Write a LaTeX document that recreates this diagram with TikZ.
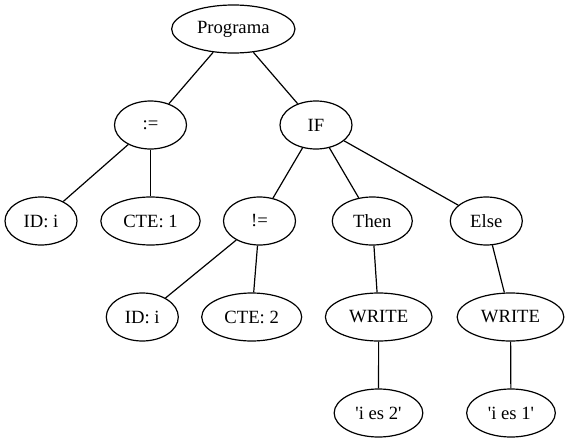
\documentclass[tikz,border=0pt]{standalone}
\usepackage{fontspec}
\newfontfamily\gvfont{Liberation Serif}
\usetikzlibrary{shapes.geometric}
\begin{document}
\begin{tikzpicture}[x=0.75pt,y=-0.75pt,
  tn/.style={ellipse,draw=black,line width=0.9pt,inner sep=0pt,minimum height=36pt,minimum width=54pt,
    font=\gvfont\fontsize{14}{16}\selectfont},
  edge/.style={draw=black,line width=0.9pt}]
\useasboundingbox (0,0) rectangle (569,443);
\node[tn,minimum width=92.5pt] (prog) at (233.3,29) {Programa};
\node[tn] (asig) at (150.5,125) {:=};
\node[tn] (if) at (316,125) {IF};
\node[tn] (id1) at (41,221) {ID: i};
\node[tn,minimum width=74.5pt] (cte1) at (150.5,221) {CTE: 1};
\node[tn] (neq) at (259.5,221) {!=};
\node[tn,minimum width=60pt] (then) at (372.3,221) {Then};
\node[tn] (else) at (486.3,221) {Else};
\node[tn] (id2) at (142.3,317) {ID: i};
\node[tn,minimum width=75pt] (cte2) at (251.7,317) {CTE: 2};
\node[tn,minimum width=80pt] (w1) at (378.7,317) {WRITE};
\node[tn,minimum width=80pt] (w2) at (510.5,317) {WRITE};
\node[tn,minimum width=66.5pt] (s2) at (378.5,413) {'i es 2'};
\node[tn,minimum width=66.5pt] (s1) at (511,413) {'i es 1'};
\draw[edge] (prog) -- (asig);
\draw[edge] (prog) -- (if);
\draw[edge] (asig) -- (id1);
\draw[edge] (asig) -- (cte1);
\draw[edge] (if) -- (neq);
\draw[edge] (if) -- (then);
\draw[edge] (if) -- (else);
\draw[edge] (neq) -- (id2);
\draw[edge] (neq) -- (cte2);
\draw[edge] (then) -- (w1);
\draw[edge] (else) -- (w2);
\draw[edge] (w1) -- (s2);
\draw[edge] (w2) -- (s1);
\end{tikzpicture}
\end{document}
